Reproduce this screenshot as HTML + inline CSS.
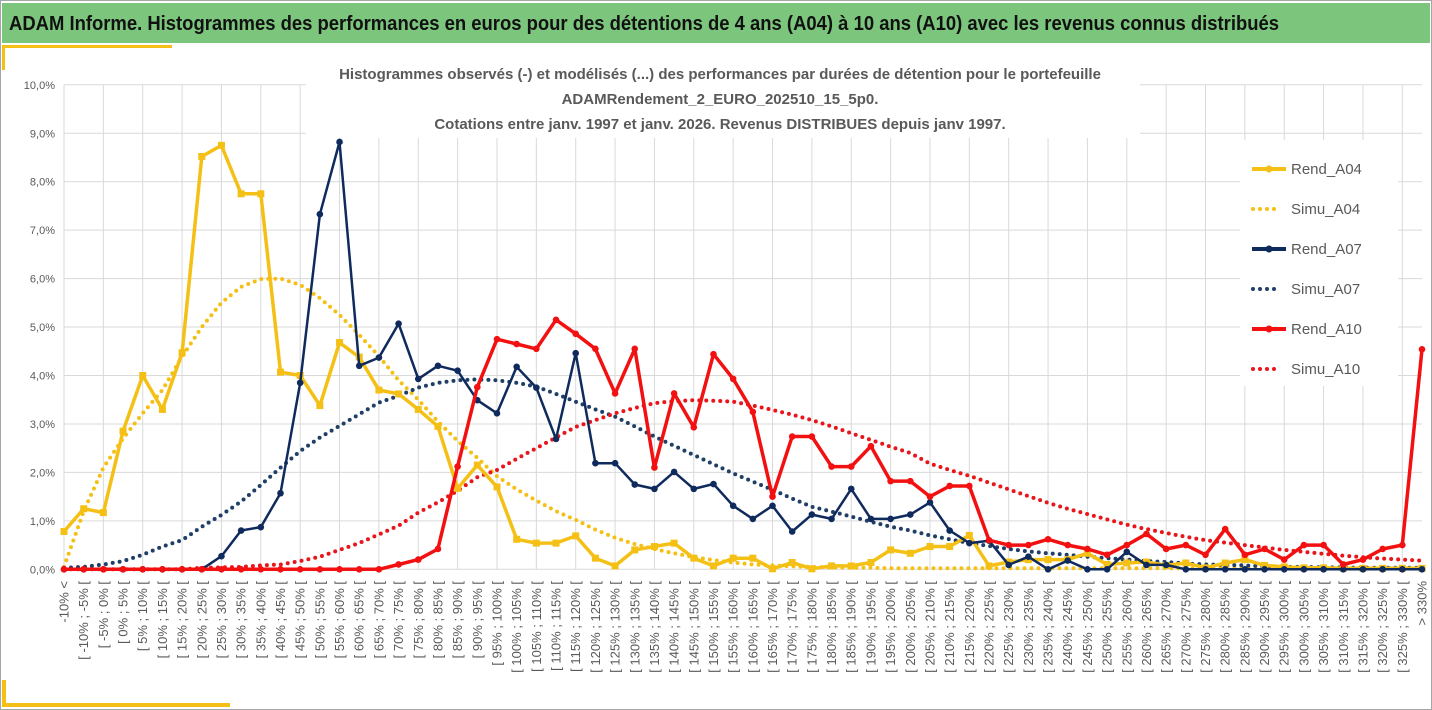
<!DOCTYPE html>
<html><head><meta charset="utf-8">
<style>
html,body{margin:0;padding:0;background:#fff;}
body{width:1432px;height:710px;overflow:hidden;position:relative;font-family:"Liberation Sans",sans-serif;}
</style></head>
<body>
<svg id="chart" width="1432" height="710" xmlns="http://www.w3.org/2000/svg" style="position:absolute;left:0;top:0">
  <rect x="0.5" y="0.5" width="1431" height="709" fill="#fff" stroke="#a6a6a6"/>
  <rect x="2" y="3" width="1428" height="40" fill="#7cc57d"/>
  <text x="9" y="30" font-size="20" font-weight="bold" fill="#111" textLength="1270" lengthAdjust="spacingAndGlyphs">ADAM Informe. Histogrammes des performances en euros pour des détentions de 4 ans (A04) à 10 ans (A10) avec les revenus connus distribués</text>
  <rect x="2" y="45" width="170" height="3" fill="#f5c016"/>
  <rect x="2" y="45" width="3" height="25" fill="#f5c016"/>
  <rect x="2" y="680" width="4" height="25" fill="#f5c016"/>
  <rect x="2" y="703" width="228" height="4" fill="#f5c016"/>
  <g id="grid"></g>
  <rect x="306" y="58" width="834" height="80" fill="#fff"/>
  <g font-size="15" font-weight="bold" fill="#595959" text-anchor="middle">
    <text x="720" y="79">Histogrammes observés (-) et modélisés (...) des performances par durées de détention pour le portefeuille</text>
    <text x="720" y="104">ADAMRendement_2_EURO_202510_15_5p0.</text>
    <text x="720" y="129">Cotations entre janv. 1997 et janv. 2026. Revenus DISTRIBUES depuis janv 1997.</text>
  </g>
  <g id="yaxis"></g>
  <g id="xaxis"></g>
  <g id="series"></g>
  <rect x="1240" y="140" width="158" height="246" fill="#fff"/>
  <g id="legend"></g>
</svg>
<script>
const categories = (function(){ const c=["-10% <"]; for(let a=-10;a<330;a+=5){c.push("[ "+a+"% ; "+(a+5)+"% [");} c.push("> 330%"); return c; })();
const yTicks = [0,1,2,3,4,5,6,7,8,9,10];
const yTickLabels = ["0,0%","1,0%","2,0%","3,0%","4,0%","5,0%","6,0%","7,0%","8,0%","9,0%","10,0%"];
const seriesNames = ["Rend_A04","Simu_A04","Rend_A07","Simu_A07","Rend_A10","Simu_A10"];
const rendA04 = [0.78,1.25,1.17,2.85,4.0,3.3,4.47,8.52,8.75,7.75,7.75,4.07,4.0,3.38,4.68,4.38,3.7,3.62,3.3,2.95,1.67,2.15,1.7,0.62,0.54,0.54,0.69,0.23,0.07,0.4,0.47,0.54,0.23,0.07,0.23,0.23,0.01,0.14,0.01,0.07,0.07,0.14,0.4,0.33,0.47,0.47,0.7,0.07,0.15,0.2,0.2,0.2,0.33,0.1,0.13,0.15,0.08,0.13,0.03,0.13,0.2,0.08,0.05,0.03,0.03,0.02,0.02,0.02,0.02,0.02];
const simuA04 = [0.05,1.2,2.1,2.7,3.22,3.7,4.39,5.0,5.5,5.83,5.99,6.0,5.87,5.6,5.25,4.84,4.4,3.9,3.5,3.05,2.65,2.3,1.92,1.65,1.42,1.2,1.02,0.82,0.65,0.52,0.42,0.33,0.25,0.19,0.14,0.1,0.08,0.06,0.05,0.04,0.03,0.03,0.02,0.02,0.02,0.02,0.02,0.02,0.02,0.02,0.02,0.02,0.02,0.02,0.02,0.02,0.02,0.02,0.02,0.02,0.02,0.02,0.02,0.02,0.02,0.02,0.02,0.02,0.02,0.02];
const rendA07 = [0,0,0,0,0,0,0,0,0.27,0.8,0.87,1.57,3.85,7.33,8.82,4.2,4.37,5.07,3.93,4.2,4.1,3.49,3.22,4.18,3.75,2.69,4.46,2.19,2.19,1.75,1.66,2.01,1.66,1.76,1.31,1.04,1.31,0.78,1.13,1.04,1.66,1.04,1.04,1.13,1.38,0.8,0.54,0.59,0.09,0.26,0,0.18,0,0,0.36,0.09,0.09,0,0,0,0,0,0,0,0,0,0,0,0,0];
const simuA07 = [0.03,0.05,0.1,0.17,0.3,0.47,0.6,0.88,1.12,1.4,1.74,2.1,2.44,2.72,2.96,3.2,3.44,3.58,3.75,3.85,3.9,3.92,3.9,3.85,3.77,3.62,3.46,3.3,3.15,2.95,2.74,2.55,2.36,2.17,1.98,1.81,1.64,1.46,1.29,1.19,1.09,0.98,0.88,0.8,0.7,0.62,0.54,0.48,0.42,0.37,0.33,0.3,0.26,0.23,0.2,0.17,0.15,0.12,0.1,0.09,0.08,0.06,0.05,0.05,0.04,0.04,0.03,0.03,0.03,0.03];
const rendA10 = [0,0,0,0,0,0,0,0,0,0,0,0,0,0,0,0,0,0.1,0.2,0.42,2.12,3.76,4.75,4.65,4.55,5.15,4.86,4.55,3.63,4.55,2.1,3.63,2.93,4.44,3.93,3.25,1.5,2.74,2.74,2.12,2.12,2.54,1.82,1.82,1.5,1.72,1.72,0.6,0.5,0.5,0.62,0.5,0.42,0.3,0.5,0.73,0.42,0.5,0.3,0.83,0.3,0.42,0.2,0.5,0.5,0.1,0.2,0.42,0.5,4.54];
const simuA10 = [0,0,0,0,0,0,0,0.03,0.04,0.05,0.08,0.1,0.17,0.26,0.4,0.54,0.72,0.9,1.17,1.38,1.62,1.9,2.05,2.28,2.5,2.72,2.94,3.08,3.22,3.33,3.43,3.47,3.49,3.48,3.46,3.38,3.29,3.19,3.08,2.95,2.81,2.67,2.53,2.4,2.18,2.05,1.93,1.79,1.65,1.51,1.37,1.25,1.14,1.03,0.92,0.83,0.75,0.67,0.6,0.55,0.5,0.45,0.4,0.36,0.32,0.28,0.25,0.22,0.2,0.18];

const NS="http://www.w3.org/2000/svg";
const X0=64, X1=1422, Y0=569.3, YPX=48.45;
function xPos(i){ return X0 + i*(X1-X0)/(categories.length-1); }
function yPos(v){ return Y0 - v*YPX; }
function mk(tag, attrs, parent){ const e=document.createElementNS(NS,tag); for(const k in attrs) e.setAttribute(k,attrs[k]); parent.appendChild(e); return e; }

const grid=document.getElementById('grid');
yTicks.forEach(function(t){
  const l=mk('line',{x1:X0,x2:X1,y1:yPos(t),y2:yPos(t),stroke:'#d9d9d9','stroke-width':1},grid);
  
  
});
for(let i=0;i<categories.length;i+=2){
  const l=mk('line',{x1:xPos(i),x2:xPos(i),y1:yPos(10),y2:Y0,stroke:'#d9d9d9','stroke-width':1},grid);
  
  
}
const ya=document.getElementById('yaxis');
yTicks.forEach(function(t,k){
  const tx=mk('text',{x:55,y:yPos(t)+4,'font-size':11,fill:'#595959','text-anchor':'end'},ya);
  tx.textContent=yTickLabels[k];
  
  
});
const xa=document.getElementById('xaxis');
categories.forEach(function(c,i){
  const x=xPos(i)+4.5, y=581;
  const tx=mk('text',{x:x,y:y,'font-size':13,fill:'#595959','text-anchor':'end',transform:'rotate(-90 '+x+' '+y+')'},xa);
  tx.textContent=c;
  
  
});

const ser=document.getElementById('series');
function drawLine(vals,color,width,dotted,marker,name){
  const g=mk('g',{},ser);
  
  
  const pts=vals.map(function(v,i){return xPos(i).toFixed(1)+','+yPos(v).toFixed(1);}).join(' ');
  const attrs={points:pts,fill:'none',stroke:color,'stroke-width':width,'stroke-linejoin':'round'};
  if(dotted){attrs['stroke-dasharray']='0 7';attrs['stroke-linecap']='round';}
  mk('polyline',attrs,g);
  if(marker){
    vals.forEach(function(v,i){
      let m;
      if(marker==='square'){ m=mk('rect',{x:xPos(i)-3.5,y:yPos(v)-3.5,width:7,height:7,fill:color},g); }
      else { m=mk('circle',{cx:xPos(i),cy:yPos(v),r:3.3,fill:color},g); }
      
      
    });
  }
}
drawLine(simuA04,'#f5c016',4,true,null,'series-simu-a04');
drawLine(simuA07,'#1f3f66',4,true,null,'series-simu-a07');
drawLine(simuA10,'#e8151b',4,true,null,'series-simu-a10');
drawLine(rendA04,'#f5c016',3.5,false,'square','series-rend-a04');
drawLine(rendA07,'#0f2a5c',2.5,false,'circle','series-rend-a07');
drawLine(rendA10,'#f21010',3.5,false,'circle','series-rend-a10');

const leg=document.getElementById('legend');
const legColors=['#f5c016','#f5c016','#0f2a5c','#1f3f66','#f21010','#e8151b'];
seriesNames.forEach(function(n,k){
  const y=169+k*40;
  const g=mk('g',{},leg);
  
  
  const dotted=n.indexOf('Simu')===0;
  const a={x1:1252,x2:1286,y1:y,y2:y,stroke:legColors[k],'stroke-width':4};
  if(dotted){a['stroke-dasharray']='0 7';a['stroke-linecap']='round';a.x1=1253;a.x2=1281;}
  mk('line',a,g);
  if(!dotted) mk('circle',{cx:1269,cy:y,r:3.5,fill:legColors[k]},g);
  const t=mk('text',{x:1291,y:y+5,'font-size':15,fill:'#595959'},g);
  t.textContent=n;
});
</script>
</body></html>
